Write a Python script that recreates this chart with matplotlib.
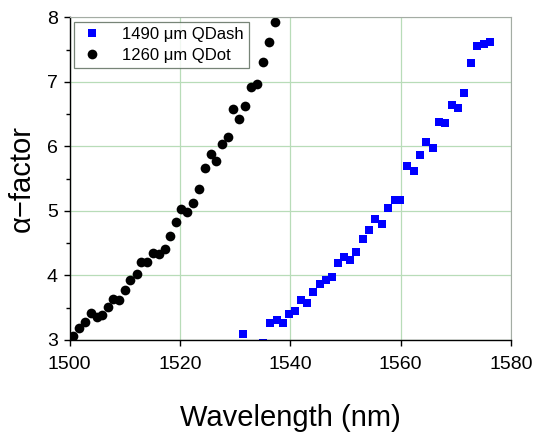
import numpy as np
import matplotlib
matplotlib.use('Agg')
import matplotlib.pyplot as plt
from matplotlib.ticker import MultipleLocator

plt.rcParams['font.family'] = ['Liberation Sans', 'DejaVu Sans']

# 1260 um QDot
qdot_wl = [1500.65, 1501.74, 1502.83, 1503.86, 1504.95, 1505.85, 1506.94, 1507.79,
           1508.99, 1510.07, 1510.98, 1512.14, 1512.92, 1514.06, 1515.14, 1516.23,
           1517.26, 1518.22, 1519.26, 1520.22, 1521.30, 1522.39, 1523.48, 1524.46,
           1525.54, 1526.56, 1527.64, 1528.73, 1529.64, 1530.72, 1531.88, 1532.84,
           1533.99, 1535.07, 1536.10, 1537.25]
qdot_alpha = [3.06, 3.18, 3.28, 3.42, 3.35, 3.39, 3.51, 3.63,
              3.62, 3.78, 3.93, 4.02, 4.21, 4.21, 4.35, 4.34,
              4.41, 4.61, 4.83, 5.03, 4.98, 5.12, 5.34, 5.66,
              5.88, 5.78, 6.03, 6.15, 6.58, 6.43, 6.62, 6.92,
              6.96, 7.31, 7.62, 7.92]

# 1490 um QDash
qdash_wl = [1530.0, 1531.34, 1535.0, 1536.41, 1537.50, 1538.59, 1539.73, 1540.87,
            1541.90, 1543.04, 1544.20, 1545.34, 1546.49, 1547.57, 1548.73, 1549.75,
            1550.83, 1551.92, 1553.13, 1554.28, 1555.36, 1556.58, 1557.79, 1558.99,
            1559.96, 1561.23, 1562.37, 1563.46, 1564.67, 1565.82, 1566.90, 1568.12,
            1569.26, 1570.40, 1571.56, 1572.70, 1573.84, 1575.05, 1576.27]
qdash_alpha = [2.94, 3.09, 2.96, 3.26, 3.31, 3.27, 3.40, 3.45,
               3.62, 3.58, 3.75, 3.87, 3.93, 3.98, 4.19, 4.28,
               4.24, 4.36, 4.57, 4.71, 4.87, 4.80, 5.05, 5.17,
               5.17, 5.69, 5.62, 5.86, 6.07, 5.98, 6.38, 6.36,
               6.64, 6.60, 6.83, 7.29, 7.55, 7.58, 7.62]

fig = plt.figure(figsize=(5.37, 4.34), dpi=100)
ax = fig.add_axes([0.1296, 0.2166, 0.8220, 0.7435])

ax.plot(qdash_wl, qdash_alpha, 's', color='#0000ff', markersize=6.2,
        markeredgewidth=0, label='1490 \u03bcm QDash')
ax.plot(qdot_wl, qdot_alpha, 'o', color='black', markersize=7.0,
        markeredgewidth=0, label='1260 \u03bcm QDot')

ax.set_xlim(1500, 1580)
ax.set_ylim(3, 8)
ax.xaxis.set_major_locator(MultipleLocator(20))
ax.yaxis.set_major_locator(MultipleLocator(1))
ax.yaxis.set_minor_locator(MultipleLocator(0.5))

ax.grid(True, which='major', color='#b8dcb8', linewidth=0.9)
ax.set_axisbelow(True)

for s in ['top', 'right']:
    ax.spines[s].set_color('#a4aca4')
for s in ['left', 'bottom']:
    ax.spines[s].set_color('black')
    ax.spines[s].set_linewidth(1.0)

ax.tick_params(which='major', direction='out', length=4.5, width=1.0,
               labelsize=14, top=False, right=False)
ax.tick_params(axis='x', which='major', pad=7)
ax.tick_params(axis='y', which='major', pad=4)
ax.tick_params(which='minor', direction='out', length=3, width=1.0)

ax.set_xlabel('Wavelength (nm)', fontsize=21, labelpad=22)
ax.set_ylabel('\u03b1\u2212factor', fontsize=21, labelpad=8)

leg = ax.legend(loc='upper left', bbox_to_anchor=(0.01, 0.985), borderaxespad=0,
                fontsize=12, frameon=True, fancybox=False, handlelength=1.6,
                handletextpad=1.0, markerscale=1.0, borderpad=0.3,
                labelspacing=0.35)
leg.get_frame().set_edgecolor('#556655')
leg.get_frame().set_linewidth(0.9)

plt.savefig('out.png', dpi=100)
